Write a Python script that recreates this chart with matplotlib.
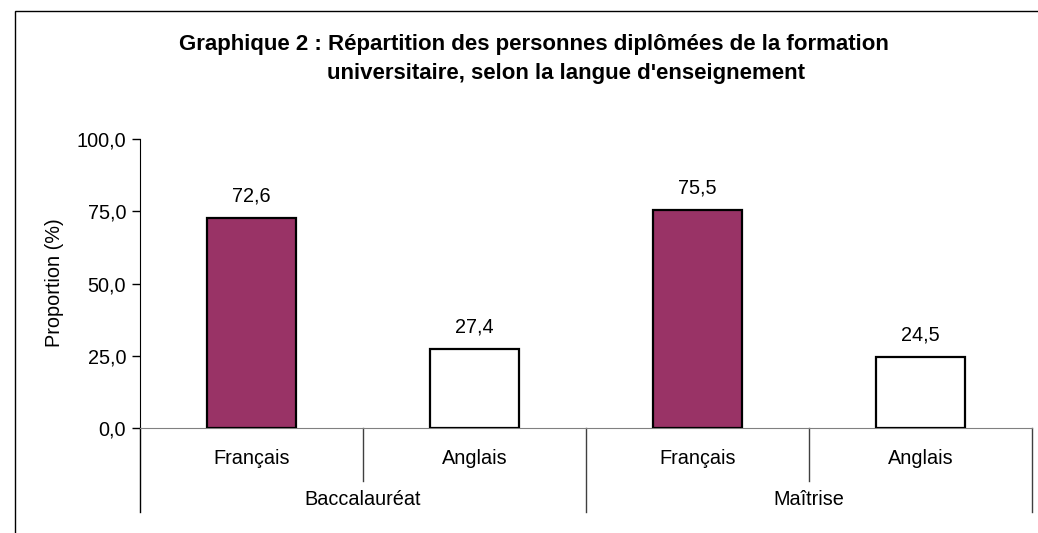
import matplotlib
matplotlib.use('Agg')
import matplotlib.pyplot as plt
from matplotlib.patches import Rectangle
import matplotlib.transforms as mtransforms

plt.rcParams['font.family'] = ['Liberation Sans', 'DejaVu Sans']

# data
langues = ["Français", "Anglais", "Français", "Anglais"]
diplomes = ["Baccalauréat", "Maîtrise"]
valeurs = [72.6, 27.4, 75.5, 24.5]
couleurs = ["#993366", "#FFFFFF", "#993366", "#FFFFFF"]
yticks = [0, 25, 50, 75, 100]

W, H = 1038, 533
FS = 14.3
fig = plt.figure(figsize=(W / 100, H / 100), dpi=100)

# frame around the chart (cut off on right and bottom)
fig.patches.append(Rectangle((15 / W, -0.2), 1.2, 1.2 - 11 / H,
                             transform=fig.transFigure, fill=False,
                             edgecolor="black", linewidth=1.0))

ax = fig.add_axes([140 / W, (H - 428) / H, 892 / W, 289 / H])
x = list(range(len(valeurs)))
ax.bar(x, valeurs, width=0.4, color=couleurs, edgecolor="black", linewidth=1.6, zorder=3)
for xi, v in zip(x, valeurs):
    ax.annotate(f"{v:.1f}".replace(".", ","), (xi, v), xytext=(0, 16),
                textcoords="offset points", ha="center", va="center", fontsize=FS)

ax.set_xlim(-0.5, 3.5)
ax.set_ylim(0, 100)
ax.set_yticks(yticks)
ax.set_yticklabels([f"{t:.1f}".replace(".", ",") for t in yticks], fontsize=FS)
ax.tick_params(axis="y", length=6, width=1, direction="out", pad=4)
ax.set_xticks([])
for s in ["top", "right"]:
    ax.spines[s].set_visible(False)
ax.spines["bottom"].set_color("#808080")
ax.spines["left"].set_color("black")
ax.patch.set_visible(False)

# multi-level category axis
trans = mtransforms.blended_transform_factory(ax.transData, ax.transAxes)
for sep in [0.5, 2.5]:
    ax.plot([sep, sep], [0, -0.183], transform=trans, color="#404040", lw=1, clip_on=False)
for sep in [-0.5, 1.5, 3.5]:
    ax.plot([sep, sep], [0, -0.29], transform=trans,
            color="black" if sep == -0.5 else "#404040", lw=1, clip_on=False)
for xi, lab in zip(x, langues):
    ax.text(xi, -0.104, lab, transform=trans, ha="center", va="center", fontsize=FS)
for i, lab in enumerate(diplomes):
    ax.text(2 * i + 0.5, -0.249, lab, transform=trans, ha="center", va="center", fontsize=FS)

fig.text(55 / W, 1 - 283 / H, "Proportion (%)", rotation=90, ha="center", va="center", fontsize=FS)
fig.text(534 / W, 1 - 45 / H, "Graphique 2 : Répartition des personnes diplômées de la formation",
         ha="center", va="center", fontsize=16, fontweight="bold")
fig.text(566 / W, 1 - 73 / H, "universitaire, selon la langue d'enseignement",
         ha="center", va="center", fontsize=16, fontweight="bold")

fig.savefig("out.png", dpi=100)
